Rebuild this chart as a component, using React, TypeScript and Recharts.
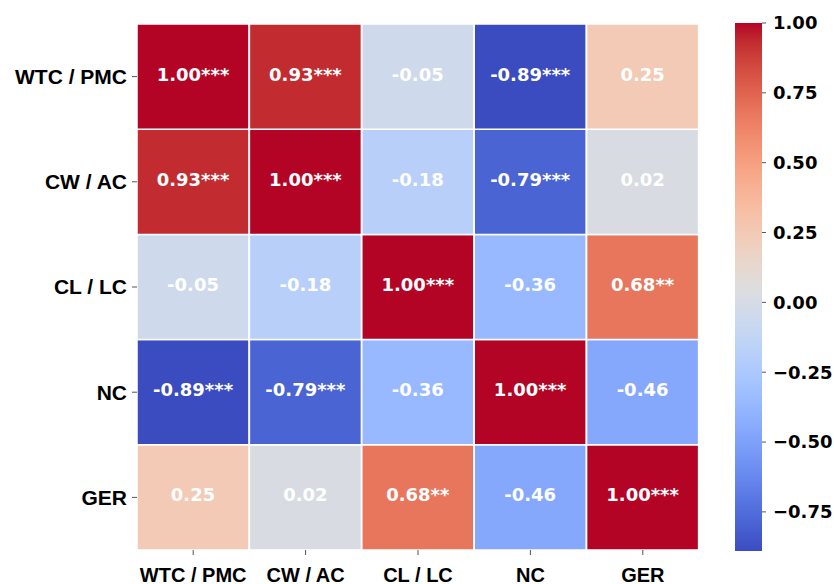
import React from 'react';
import { BarChart, Bar, XAxis, YAxis, Cell, LabelList } from 'recharts';

// ---- data ----
const variables = ['WTC / PMC', 'CW / AC', 'CL / LC', 'NC', 'GER'];

const rWtcPmc = [1.0, 0.93, -0.05, -0.89, 0.25];
const rCwAc = [0.93, 1.0, -0.18, -0.79, 0.02];
const rClLc = [-0.05, -0.18, 1.0, -0.36, 0.68];
const rNc = [-0.89, -0.79, -0.36, 1.0, -0.46];
const rGer = [0.25, 0.02, 0.68, -0.46, 1.0];

const sWtcPmc = ['***', '***', '', '***', ''];
const sCwAc = ['***', '***', '', '***', ''];
const sClLc = ['', '', '***', '', '**'];
const sNc = ['***', '***', '', '***', ''];
const sGer = ['', '', '**', '', '***'];

const colorbarTicks = [-0.75, -0.5, -0.25, 0, 0.25, 0.5, 0.75, 1.0];
const colorMin = -0.89;
const colorMax = 1.0;

const corrRows = [rWtcPmc, rCwAc, rClLc, rNc, rGer];
const starRows = [sWtcPmc, sCwAc, sClLc, sNc, sGer];

// matplotlib "coolwarm" control points
const coolwarm: number[][] = [
  [59, 76, 192], [68, 90, 204], [77, 104, 215], [87, 117, 225], [98, 130, 234],
  [108, 142, 241], [119, 154, 247], [130, 165, 251], [141, 176, 254], [152, 185, 255],
  [163, 194, 255], [174, 201, 253], [184, 208, 249], [194, 213, 244], [204, 217, 238],
  [213, 219, 230], [221, 221, 221], [229, 216, 209], [236, 211, 197], [241, 204, 185],
  [245, 196, 173], [247, 187, 160], [247, 177, 148], [247, 166, 135], [244, 154, 123],
  [241, 141, 111], [236, 127, 99], [229, 112, 88], [222, 96, 77], [213, 80, 66],
  [203, 62, 56], [192, 40, 47], [180, 4, 38],
];

function cmap(t: number): string {
  const tt = Math.max(0, Math.min(1, t)) * (coolwarm.length - 1);
  const i = Math.min(coolwarm.length - 2, Math.floor(tt));
  const f = tt - i;
  const a = coolwarm[i];
  const b = coolwarm[i + 1];
  const c = [0, 1, 2].map((k) => Math.round(a[k] + (b[k] - a[k]) * f));
  return `rgb(${c[0]},${c[1]},${c[2]})`;
}
const colorFor = (v: number) => cmap((v - colorMin) / (colorMax - colorMin));

// Build table: one entry per column category, one stacked segment per row
const data = variables.map((col, j) => {
  const o: any = { col };
  corrRows.forEach((row, i) => {
    o['r' + i] = 1;
    o['v' + i] = row[j];
    o['l' + i] = row[j].toFixed(2) + starRows[i][j];
  });
  return o;
});

// stacking from bottom (last row) to top (first row)
const stackOrder = [4, 3, 2, 1, 0];

const annotFont = "'DejaVu Sans', sans-serif";
const labelFont = "'Liberation Sans', Arial, sans-serif";

const CellLabel = (props: any) => {
  const { x, y, width, height, value } = props;
  return (
    <text
      x={x + width / 2}
      y={y + height / 2}
      dy={4}
      textAnchor="middle"
      fill="#ffffff"
      fontFamily={annotFont}
      fontWeight="bold"
      fontSize={18}
    >
      {value}
    </text>
  );
};

const fmtCb = (v: number) => (v < 0 ? '\u2212' : '') + Math.abs(v).toFixed(2);

const cbData = [{ name: 'cb', range: [colorMin, colorMax] }];
const cbStops = coolwarm.slice().reverse();

export default function App() {
  return (
    <div style={{ position: 'absolute', left: 0, top: 0, width: 834, height: 584, background: '#fff' }}>
      <BarChart
        width={834}
        height={584}
        data={data}
        margin={{ top: 24, right: 135, bottom: 0, left: 0 }}
        barCategoryGap={0}
        barGap={0}
      >
        <XAxis
          dataKey="col"
          type="category"
          height={34}
          axisLine={false}
          tickSize={5}
          tickMargin={13}
          tickLine={{ stroke: '#555' }}
          tick={{ fill: '#000', fontSize: 20, fontWeight: 'bold', fontFamily: labelFont }}
          interval={0}
        />
        <YAxis
          type="number"
          domain={[0, 5]}
          ticks={[0.5, 1.5, 2.5, 3.5, 4.5]}
          tickFormatter={(v: number) => variables[4 - Math.floor(v)]}
          width={137}
          axisLine={false}
          tickSize={5}
          tickMargin={5}
          tickLine={{ stroke: '#555' }}
          tick={{ fill: '#000', fontSize: 21, fontWeight: 'bold', fontFamily: labelFont }}
          interval={0}
        />
        {stackOrder.map((i) => (
          <Bar key={i} dataKey={'r' + i} stackId="a" isAnimationActive={false} stroke="#ffffff" strokeWidth={1.5}>
            {data.map((d, j) => (
              <Cell key={j} fill={colorFor(d['v' + i])} />
            ))}
            <LabelList dataKey={'l' + i} content={CellLabel} />
          </Bar>
        ))}
      </BarChart>

      <div style={{ position: 'absolute', left: 735, top: 0 }}>
        <BarChart
          width={99}
          height={584}
          data={cbData}
          margin={{ top: 23, right: 0, bottom: 33, left: 0 }}
          barCategoryGap={0}
        >
          <defs>
            <linearGradient id="cbGrad" x1="0" y1="0" x2="0" y2="1">
              {cbStops.map((c, k) => (
                <stop
                  key={k}
                  offset={k / (cbStops.length - 1)}
                  stopColor={`rgb(${c[0]},${c[1]},${c[2]})`}
                />
              ))}
            </linearGradient>
          </defs>
          <XAxis dataKey="name" hide />
          <YAxis
            orientation="right"
            type="number"
            domain={[colorMin, colorMax]}
            ticks={colorbarTicks}
            tickFormatter={fmtCb}
            width={72}
            axisLine={false}
            tickSize={4}
            tickMargin={7}
            tickLine={{ stroke: '#555' }}
            tick={{ fill: '#000', fontSize: 18, fontWeight: 'bold', fontFamily: annotFont }}
            interval={0}
            allowDataOverflow
          />
          <Bar dataKey="range" fill="url(#cbGrad)" isAnimationActive={false} />
        </BarChart>
      </div>
    </div>
  );
}
